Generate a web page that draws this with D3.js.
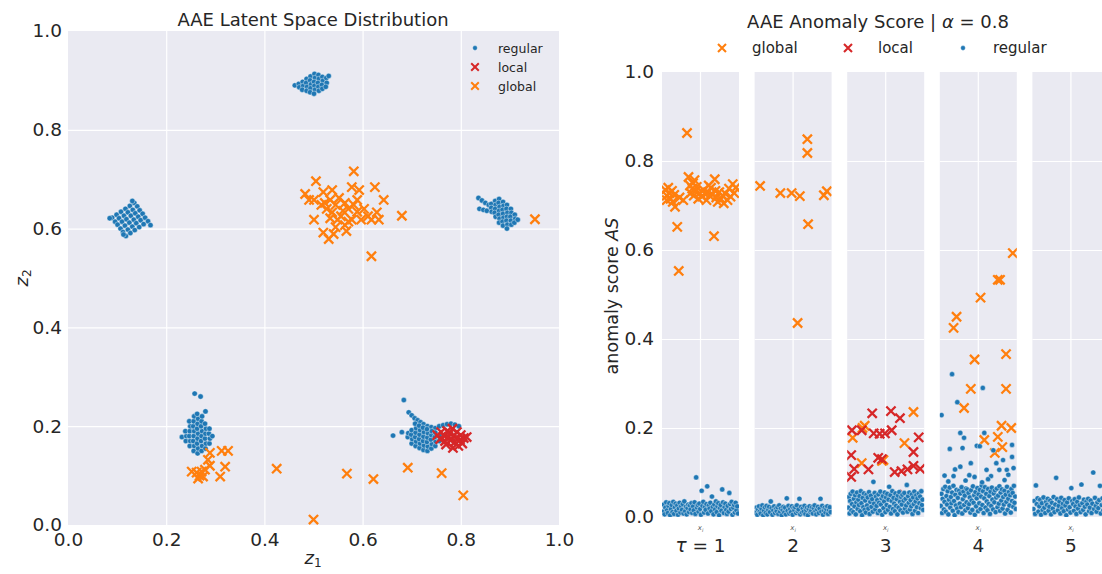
<!DOCTYPE html>
<html><head><meta charset="utf-8">
<script src="https://cdn.jsdelivr.net/npm/d3@7"></script>
<style>body{margin:0;background:#fff}svg{display:block}text{font-family:"DejaVu Sans",sans-serif;fill:#262626}</style>
</head><body><svg id="c" width="1102" height="574"></svg>
<script>
// ---------------- DATA ----------------
// Left chart: latent space (z1, z2)
const latentRegular = [
 // top cluster
 [.462,.890],[.470,.893],[.471,.886],[.478,.897],[.479,.889],[.477,.881],[.486,.903],[.485,.895],[.487,.887],[.486,.879],
 [.494,.908],[.493,.900],[.495,.892],[.494,.884],[.493,.876],[.502,.913],[.503,.905],[.501,.897],[.502,.889],[.503,.881],
 [.501,.873],[.510,.911],[.511,.903],[.509,.895],[.510,.887],[.511,.879],[.518,.907],[.519,.899],[.517,.891],[.518,.883],
 [.526,.905],[.527,.895],[.525,.887],[.531,.909],
 // left cluster
 [.090,.622],[.096,.614],[.101,.608],[.107,.600],[.112,.593],[.118,.585],[.099,.628],[.104,.621],[.110,.614],[.116,.606],
 [.122,.598],[.127,.591],[.108,.634],[.114,.626],[.119,.619],[.125,.612],[.131,.604],[.136,.597],[.117,.640],[.122,.633],
 [.128,.626],[.134,.618],[.139,.611],[.145,.603],[.126,.646],[.132,.638],[.137,.631],[.143,.624],[.148,.617],[.154,.609],
 [.135,.652],[.141,.645],[.146,.637],[.152,.630],[.157,.622],[.163,.615],[.168,.607],[.131,.656],[.085,.621],[.113,.588],
 // right cluster
 [.836,.662],[.843,.657],[.850,.652],[.857,.648],[.838,.640],[.846,.638],[.853,.636],[.862,.650],[.862,.642],[.863,.634],
 [.870,.656],[.871,.648],[.870,.640],[.869,.632],[.871,.624],[.878,.660],[.877,.652],[.879,.644],[.878,.636],[.877,.628],
 [.879,.620],[.878,.612],[.886,.654],[.887,.646],[.885,.638],[.886,.630],[.887,.622],[.885,.614],[.886,.606],[.894,.648],
 [.893,.640],[.895,.632],[.894,.624],[.893,.616],[.895,.608],[.894,.600],[.902,.640],[.903,.632],[.901,.624],[.902,.616],
 [.903,.608],[.910,.628],[.911,.620],[.909,.612],[.916,.618],
 // bottom-left cluster
 [.232,.178],[.240,.170],[.241,.180],[.239,.190],[.248,.160],[.249,.170],[.247,.180],[.248,.190],[.249,.200],[.247,.210],
 [.256,.150],[.257,.160],[.255,.170],[.256,.180],[.257,.190],[.255,.200],[.256,.210],[.257,.220],[.264,.145],[.265,.155],
 [.263,.165],[.264,.175],[.265,.185],[.263,.195],[.264,.205],[.265,.215],[.263,.225],[.272,.150],[.273,.160],[.271,.170],
 [.272,.180],[.273,.190],[.271,.200],[.272,.210],[.273,.220],[.280,.155],[.281,.165],[.279,.175],[.280,.185],[.281,.195],
 [.279,.205],[.280,.230],[.288,.165],[.289,.175],[.287,.185],[.288,.195],[.294,.180],[.258,.266],[.270,.260],
 // bottom-right cluster
 [.684,.253],[.662,.181],[.680,.188],[.694,.228],[.700,.222],[.706,.216],[.712,.212],[.718,.208],[.724,.204],[.732,.200],
 [.740,.198],[.748,.196],[.756,.200],[.764,.202],[.772,.204],[.780,.205],[.788,.203],[.796,.200],[.692,.178],[.693,.186],
 [.700,.165],[.701,.174],[.699,.183],[.700,.192],[.708,.160],[.709,.169],[.707,.178],[.708,.187],[.709,.196],[.707,.205],
 [.716,.156],[.717,.165],[.715,.174],[.716,.183],[.717,.192],[.715,.201],[.724,.152],[.725,.161],[.723,.170],[.724,.179],
 [.725,.188],[.723,.197],[.732,.150],[.733,.159],[.731,.168],[.732,.177],[.733,.186],[.731,.194],[.740,.155],[.741,.164],
 [.739,.173],[.740,.182],[.741,.190],[.748,.160],[.749,.169],[.747,.178],[.748,.187],[.756,.170],[.757,.180]
];
const latentLocal = [
 [.752,.182],[.758,.174],[.760,.188],[.766,.180],[.768,.170],[.772,.190],[.775,.178],[.778,.186],[.780,.172],[.783,.195],
 [.786,.181],[.788,.168],[.790,.176],[.792,.188],[.795,.160],[.798,.172],[.800,.182],[.803,.165],[.806,.176],[.812,.178],
 [.784,.156],[.770,.163]
];
const latentGlobal = [
 [.582,.716],[.505,.696],[.483,.670],[.491,.658],[.520,.674],[.538,.678],[.552,.662],[.534,.658],[.523,.652],[.545,.648],
 [.564,.652],[.578,.684],[.593,.678],[.625,.684],[.643,.658],[.571,.640],[.582,.648],[.589,.634],[.603,.640],[.611,.625],
 [.629,.633],[.633,.618],[.618,.618],[.538,.633],[.534,.621],[.549,.618],[.501,.618],[.520,.592],[.531,.579],[.564,.607],
 [.567,.595],[.571,.614],[.556,.625],[.560,.636],[.680,.626],[.618,.544],[.951,.619],[.516,.648],[.527,.640],[.545,.603],
 [.541,.589],[.501,.658],[.578,.618],[.589,.658],[.597,.618],
 [.289,.146],[.313,.150],[.326,.150],[.285,.132],[.252,.108],[.262,.106],[.268,.100],[.279,.112],[.289,.120],[.320,.118],
 [.310,.098],[.265,.094],[.275,.098],[.272,.108],[.425,.114],[.500,.011],[.568,.104],[.622,.093],[.692,.116],[.761,.105],
 [.805,.060]
];
const latentTicks = [0, 0.2, 0.4, 0.6, 0.8, 1.0];

// Right chart: anomaly scores per window tau
const tauLabels = ["1", "2", "3", "4", "5"];
const scoreTicks = [0, 0.2, 0.4, 0.6, 0.8, 1.0];
const regular1 = [.012,.028,.006,.021,.033,.015,.009,.025,.031,.004,.018,.027,.011,.034,.007,.022,.030,.014,.026,.005,.019,.032,.010,.024,.016,.029,.008,.035,.013,.023,.006,.020,.028,.011,.026,.017,.031,.009,.024,.015,.033,.007,.089,.021,.027,.012,.030,.018,.005,.059,.025,.034,.010,.022,.016,.029,.069,.008,.026,.019,.032,.013,.046,.023,.006,.028,.017,.035,.011,.024,.031,.004,.020,.027,.014,.062,.033,.009,.022,.030,.016,.007,.025,.012,.054,.029,.018,.034,.005,.021,.027,.010,.032,.015,.024,.008];
const regular2 = [.010,.021,.005,.017,.024,.012,.008,.019,.026,.004,.014,.022,.009,.025,.006,.016,.023,.011,.035,.020,.005,.015,.024,.009,.018,.013,.022,.007,.026,.012,.019,.004,.016,.023,.010,.021,.006,.042,.014,.025,.008,.018,.011,.024,.005,.020,.015,.022,.009,.026,.013,.017,.041,.006,.023,.010,.019,.012,.025,.007,.016,.021,.004,.018,.024,.011,.014,.022,.008,.020,.026,.013,.006,.017,.023,.009,.019,.041,.012,.025,.005,.015,.021,.010,.018,.024,.007,.016,.022,.011];
const regular3 = [.021,.045,.008,.036,.052,.015,.029,.057,.011,.041,.024,.049,.006,.033,.055,.018,.039,.027,.047,.013,.058,.031,.004,.043,.022,.053,.016,.037,.010,.050,.026,.044,.019,.056,.007,.034,.048,.023,.040,.012,.079,.030,.054,.017,.046,.025,.038,.009,.051,.032,.014,.057,.028,.042,.005,.047,.020,.035,.055,.011,.044,.027,.052,.016,.039,.068,.023,.049,.008,.036,.058,.018,.043,.030,.013,.053,.025,.040,.006,.048,.021,.056,.034,.015,.045,.028,.050,.010,.037,.054,.019,.041,.026,.072,.012,.047,.032,.055,.017,.038,.024,.051,.007,.044,.029,.057,.014,.035,.049,.022,.042,.009,.053,.031,.046,.020,.058,.027,.039,.016];
const regular4 = [.025,.052,.009,.041,.063,.017,.034,.068,.012,.047,.028,.058,.006,.039,.066,.021,.045,.031,.055,.014,.070,.036,.004,.050,.026,.061,.019,.043,.011,.059,.030,.053,.022,.067,.008,.040,.057,.027,.048,.015,.064,.033,.062,.020,.054,.029,.044,.010,.060,.037,.016,.069,.032,.049,.005,.056,.024,.042,.065,.013,.051,.031,.061,.018,.046,.071,.027,.058,.009,.042,.067,.021,.052,.035,.015,.063,.029,.047,.007,.057,.025,.066,.039,.017,.053,.033,.060,.011,.044,.064,.022,.048,.030,.069,.014,.055,.037,.062,.019,.045,.028,.059,.008,.050,.034,.068,.016,.041,.056,.026,.049,.010,.063,.036,.054,.023,.070,.032,.046,.018];
const regular5 = [.018,.036,.007,.071,.029,.042,.012,.024,.039,.005,.031,.016,.044,.021,.009,.034,.027,.041,.014,.023,.037,.006,.032,.019,.045,.011,.028,.088,.040,.015,.025,.035,.008,.043,.020,.030,.013,.038,.026,.004,.033,.017,.042,.022,.010,.065,.036,.029,.014,.040,.024,.007,.034,.019,.044,.027,.011,.073,.031,.016,.039,.023,.006,.035,.028,.041,.013,.021,.037,.009,.030,.100,.018,.043,.025,.012,.033,.020,.038,.070,.008,.027,.042,.015,.032,.022,.036,.005,.040,.017];
// scattered regular points of window 4: [position in window (0-1), score]
const regular4Sparse = [[.15,.321],[.56,.290],[.01,.229],[.22,.258],[.26,.189],[.31,.178],[.12,.153],[.29,.155],[.48,.160],[.52,.159],[.58,.189],[.95,.162],[.95,.135],[.19,.107],[.26,.113],[.40,.121],[.17,.092],[.38,.094],[.45,.090],[.61,.106],[.67,.092],[.74,.121],[.78,.106],[.88,.106],[.97,.110],[.05,.093],[.85,.083],[.70,.150],[.83,.128],[.90,.095],[.33,.082],[.55,.078],[.10,.080],[.63,.085]];
const global1 = [[.32,.863],[.19,.652],[.21,.553],[.68,.631],[.16,.697],[.34,.764],[.69,.759],[.03,.735],[.05,.722],[.07,.740],[.09,.728],[.10,.715],[.12,.733],[.13,.708],[.15,.724],[.05,.712],[.22,.718],[.27,.712],[.36,.745],[.37,.728],[.39,.738],[.40,.750],[.41,.722],[.43,.732],[.45,.742],[.47,.715],[.49,.728],[.52,.720],[.54,.735],[.56,.726],[.58,.712],[.60,.730],[.62,.722],[.64,.740],[.66,.725],[.70,.733],[.71,.718],[.73,.708],[.75,.730],[.77,.715],[.79,.722],[.81,.705],[.83,.727],[.86,.712],[.88,.738],[.90,.720],[.93,.748],[.95,.728],[.97,.740],[.42,.757],[.61,.745]];
const global2 = [[.06,.744],[.33,.728],[.48,.728],[.59,.721],[.69,.849],[.69,.818],[.70,.658],[.56,.436],[.91,.723],[.95,.732]];
const global3 = [[.87,.236],[.19,.200],[.06,.178],[.75,.166],[.18,.121],[.45,.126],[.22,.205],[.47,.128]];
const global4 = [[.96,.593],[.76,.533],[.79,.533],[.53,.493],[.21,.450],[.17,.425],[.45,.354],[.87,.366],[.40,.288],[.87,.288],[.31,.245],[.81,.205],[.94,.200],[.58,.173],[.76,.180],[.72,.144],[.82,.157]];
const global5 = [];
const local3 = [[.32,.233],[.57,.238],[.69,.222],[.05,.195],[.18,.195],[.34,.188],[.42,.187],[.49,.188],[.58,.195],[.94,.179],[.04,.139],[.40,.133],[.45,.130],[.87,.146],[.08,.108],[.27,.107],[.62,.101],[.71,.103],[.79,.107],[.87,.115],[.96,.108],[.04,.090],[.65,.050]];

// ---------------- DRAW ----------------
const C = {blue:"#1f77b4", orange:"#ff7f0e", red:"#d62728", bg:"#eaeaf2", txt:"#262626"};
const FONT = '"DejaVu Sans", sans-serif';
const svg = d3.select("#c");
svg.append("rect").attr("width",1102).attr("height",574).attr("fill","#fff");
const crossPath = s => `M${-s},${-s}L${s},${s}M${-s},${s}L${s},${-s}`;
const styleAxis = (g, fs) => { g.attr("font-family", FONT).attr("font-size", fs); g.select(".domain").remove(); g.selectAll("text").attr("fill", C.txt); };

// ===== Left chart =====
const L = {x0:68, x1:559, y0:525, y1:31};
const xL = d3.scaleLinear().domain([0,1]).range([L.x0, L.x1]);
const yL = d3.scaleLinear().domain([0,1]).range([L.y0, L.y1]);
const gL = svg.append("g");
gL.append("rect").attr("x",L.x0).attr("y",L.y1).attr("width",L.x1-L.x0).attr("height",L.y0-L.y1).attr("fill",C.bg);
const inner = latentTicks.filter(t => t > 0 && t < 1);
gL.append("g").attr("transform",`translate(0,${L.y0})`)
  .call(d3.axisBottom(xL).tickValues(inner).tickSize(-(L.y0-L.y1)).tickFormat(""))
  .call(g => { g.select(".domain").remove(); g.selectAll("line").attr("stroke","#fff").attr("stroke-width",1.2); });
gL.append("g").attr("transform",`translate(${L.x0},0)`)
  .call(d3.axisLeft(yL).tickValues(inner).tickSize(-(L.x1-L.x0)).tickFormat(""))
  .call(g => { g.select(".domain").remove(); g.selectAll("line").attr("stroke","#fff").attr("stroke-width",1.2); });
gL.append("g").attr("transform",`translate(0,${L.y0})`)
  .call(d3.axisBottom(xL).tickValues(latentTicks).tickFormat(d3.format(".1f")).tickSize(0).tickPadding(8))
  .call(g => styleAxis(g, 18.5));
gL.append("g").attr("transform",`translate(${L.x0},0)`)
  .call(d3.axisLeft(yL).tickValues(latentTicks).tickFormat(d3.format(".1f")).tickSize(0).tickPadding(6))
  .call(g => styleAxis(g, 18.5));

gL.append("g").selectAll("circle").data(latentRegular).join("circle")
  .attr("cx", d => xL(d[0])).attr("cy", d => yL(d[1])).attr("r", 2.7)
  .attr("fill", C.blue).attr("stroke","#fff").attr("stroke-width",0.4);
gL.append("g").selectAll("path").data(latentLocal).join("path")
  .attr("d", crossPath(4.6)).attr("transform", d => `translate(${xL(d[0])},${yL(d[1])})`)
  .attr("stroke", C.red).attr("stroke-width", 2.3).attr("fill","none");
gL.append("g").selectAll("path").data(latentGlobal).join("path")
  .attr("d", crossPath(4.6)).attr("transform", d => `translate(${xL(d[0])},${yL(d[1])})`)
  .attr("stroke", C.orange).attr("stroke-width", 2.3).attr("fill","none");

// left title & labels
svg.append("text").attr("x",313).attr("y",26).attr("text-anchor","middle").attr("font-size",18).text("AAE Latent Space Distribution");
const zx = svg.append("text").attr("x",313).attr("y",564).attr("text-anchor","middle").attr("font-size",18);
zx.append("tspan").attr("font-style","italic").text("z");
zx.append("tspan").attr("font-size",12).attr("dy",3).text("1");
const zy = svg.append("text").attr("transform","translate(28,278) rotate(-90)").attr("text-anchor","middle").attr("font-size",18);
zy.append("tspan").attr("font-style","italic").text("z");
zy.append("tspan").attr("font-size",12).attr("dy",3).text("2");

// left legend
const legL = [["regular","dot",C.blue],["local","x",C.red],["global","x",C.orange]];
legL.forEach((d,i) => {
  const y = 48 + i*19;
  if (d[1]==="dot") svg.append("circle").attr("cx",475).attr("cy",y).attr("r",2.4).attr("fill",d[2]).attr("stroke","#fff").attr("stroke-width",0.4);
  else svg.append("path").attr("d",crossPath(3.8)).attr("transform",`translate(475,${y})`).attr("stroke",d[2]).attr("stroke-width",2).attr("fill","none");
  svg.append("text").attr("x",498).attr("y",y+4.5).attr("font-size",12.5).text(d[0]);
});

// ===== Right chart =====
const R = {x0:662, step:92.6, w:77, y0:517, y1:72};
const yR = d3.scaleLinear().domain([0,1]).range([R.y0, R.y1]);
const regulars = [regular1, regular2, regular3, regular4, regular5];
const globals = [global1, global2, global3, global4, global5];
const locals = [[], [], local3, [], []];
const defs = svg.append("defs");
tauLabels.forEach((tau, i) => {
  const x0 = R.x0 + i*R.step;
  const xF = d3.scaleLinear().domain([0,1]).range([x0+1, x0+R.w-1]);
  const xI = d3.scaleLinear().domain([0, regulars[i].length-1]).range([x0+1, x0+R.w-1]);
  defs.append("clipPath").attr("id","cp"+i).append("rect").attr("x",x0).attr("y",R.y1).attr("width",R.w).attr("height",R.y0-R.y1);
  const g = svg.append("g");
  g.append("rect").attr("x",x0).attr("y",R.y1).attr("width",R.w).attr("height",R.y0-R.y1).attr("fill",C.bg);
  g.append("g").attr("transform",`translate(${x0},0)`)
    .call(d3.axisLeft(yR).tickValues(scoreTicks.filter(t=>t>0&&t<1)).tickSize(-R.w).tickFormat(""))
    .call(a => { a.select(".domain").remove(); a.selectAll("line").attr("stroke","#fff").attr("stroke-width",1.2); });
  g.append("line").attr("x1",xF(0.5)).attr("x2",xF(0.5)).attr("y1",R.y1).attr("y2",R.y0).attr("stroke","#fff").attr("stroke-width",1.2);
  const m = g.append("g").attr("clip-path",`url(#cp${i})`);
  m.append("g").selectAll("path").data(globals[i]).join("path")
    .attr("d", crossPath(4.6)).attr("transform", d => `translate(${xF(d[0])},${yR(d[1])})`)
    .attr("stroke", C.orange).attr("stroke-width", 2.3).attr("fill","none");
  m.append("g").selectAll("path").data(locals[i]).join("path")
    .attr("d", crossPath(4.6)).attr("transform", d => `translate(${xF(d[0])},${yR(d[1])})`)
    .attr("stroke", C.red).attr("stroke-width", 2.3).attr("fill","none");
  m.append("g").selectAll("circle").data(regulars[i]).join("circle")
    .attr("cx", (d,k) => xI(k)).attr("cy", d => yR(d)).attr("r", 2.6)
    .attr("fill", C.blue).attr("stroke","#fff").attr("stroke-width",0.4);
  if (i === 3) {
    m.append("g").selectAll("circle").data(regular4Sparse).join("circle")
      .attr("cx", d => xF(d[0])).attr("cy", d => yR(d[1])).attr("r", 2.6)
      .attr("fill", C.blue).attr("stroke","#fff").attr("stroke-width",0.4);
  }
  // tiny x_i axis label
  const xi = svg.append("text").attr("x",xF(0.5)).attr("y",530).attr("text-anchor","middle").attr("font-size",7).attr("font-style","italic");
  xi.append("tspan").attr("fill","#555").text("x");
  xi.append("tspan").attr("fill","#555").attr("font-size",5).attr("dy",1.5).text("i");
  // tau label
  const t = svg.append("text").attr("x",xF(0.5)).attr("y",552).attr("text-anchor","middle").attr("font-size",18.5);
  if (i === 0) { t.append("tspan").attr("font-style","italic").text("τ"); t.append("tspan").text(" = " + tau); }
  else t.text(tau);
});
svg.append("g").attr("transform",`translate(${R.x0},0)`)
  .call(d3.axisLeft(yR).tickValues(scoreTicks).tickFormat(d3.format(".1f")).tickSize(0).tickPadding(8))
  .call(g => styleAxis(g, 18.5));

// right title
const rt = svg.append("text").attr("x",878).attr("y",28).attr("text-anchor","middle").attr("font-size",18);
rt.append("tspan").text("AAE Anomaly Score | ");
rt.append("tspan").attr("font-style","italic").text("α");
rt.append("tspan").text(" = 0.8");
// y label
const yl = svg.append("text").attr("transform","translate(618,296) rotate(-90)").attr("text-anchor","middle").attr("font-size",17.5);
yl.append("tspan").text("anomaly score ");
yl.append("tspan").attr("font-style","italic").text("AS");
// right legend
const legR = [["global","x",C.orange,722,752],["local","x",C.red,848,878],["regular","dot",C.blue,963,993]];
legR.forEach(d => {
  if (d[1]==="dot") svg.append("circle").attr("cx",d[3]).attr("cy",48).attr("r",2.4).attr("fill",d[2]).attr("stroke","#fff").attr("stroke-width",0.4);
  else svg.append("path").attr("d",crossPath(4)).attr("transform",`translate(${d[3]},48)`).attr("stroke",d[2]).attr("stroke-width",2.1).attr("fill","none");
  svg.append("text").attr("x",d[4]).attr("y",53).attr("font-size",15).text(d[0]);
});
</script></body></html>
